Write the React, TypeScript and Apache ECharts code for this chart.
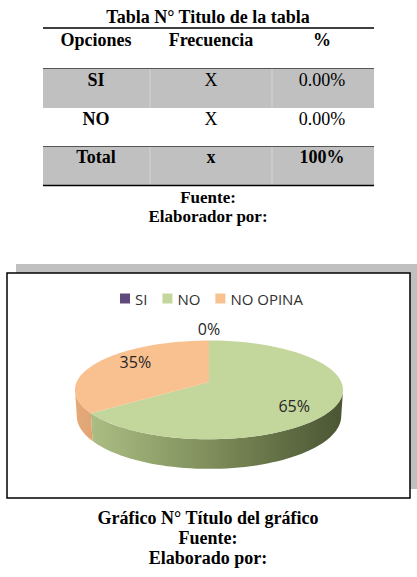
import React, { useEffect, useRef } from "react";
import * as echarts from "echarts";

// ---- Data ----
const categories = ["SI", "NO", "NO OPINA"];
const values = [0, 65, 35];

const tableTitle = "Tabla N° Titulo de la tabla";
const tableHeaders = ["Opciones", "Frecuencia", "%"];
const tableOptions = ["SI", "NO", "Total"];
const tableFreq = ["X", "X", "x"];
const tablePct = ["0.00%", "0.00%", "100%"];
const tableFooter = ["Fuente:", "Elaborador por:"];
const chartCaption = ["Gráfico N° Título del gráfico", "Fuente:", "Elaborado por:"];

// ---- Styles ----
const topColors = ["#604A7B", "#C3D69B", "#F9C090"];
const wallStops = [
  ["#7d6a98", "#5a4775", "#3c2d52"],
  ["#b2c489", "#7f8e5b", "#4a5533"],
  ["#e6aa7a", "#b37b50", "#7a5236"],
];

// projection parameters of the 3D pie
const CX = 209, CY = 382, K = 770, L = 5.82, SA = 0.3636, CA = 0.9315, H = 0.211;

function proj(theta: number, rx: number, rz: number, down: boolean): number[] {
  const x = rx * Math.sin(theta);
  const z = -rz * Math.cos(theta);
  const h = down ? H : 0;
  const depth = L + h * SA - z * CA;
  return [CX + (K * x) / depth, CY + (K * (h * CA + z * SA)) / depth];
}

const SERIF = "'Liberation Serif', 'Times New Roman', serif";
const SANS = "'Open Sans', sans-serif";

export default function App() {
  const ref = useRef<HTMLDivElement>(null);

  useEffect(() => {
    if (!ref.current) return;
    const chart = echarts.init(ref.current, null, { renderer: "svg" });
    const total = values.reduce((a, b) => a + b, 0);
    const starts: number[] = [];
    let acc = 0;
    values.forEach((v) => {
      starts.push(acc);
      acc += v;
    });
    const thR = Math.acos(-CA / L);
    const thL = 2 * Math.PI - thR;

    const makeRender = (i: number) => (params: any, api: any) => {
      const a = (starts[i] / total) * 2 * Math.PI;
      const b = ((starts[i] + values[i]) / total) * 2 * Math.PI;
      const children: any[] = [];
      const N = 60;
      // wall
      const lo = Math.max(a, thR);
      const hi = Math.min(b, thL);
      if (hi > lo) {
        const pts: number[][] = [];
        for (let k = 0; k <= N; k++) pts.push(proj(lo + ((hi - lo) * k) / N, 1, 1, false));
        for (let k = N; k >= 0; k--) pts.push(proj(lo + ((hi - lo) * k) / N, 1, 1, true));
        children.push({
          type: "polygon",
          z2: 1,
          shape: { points: pts },
          style: {
            fill: new echarts.graphic.LinearGradient(
              75, 0, 343, 0,
              [
                { offset: 0, color: wallStops[i][0] },
                { offset: 0.5, color: wallStops[i][1] },
                { offset: 1, color: wallStops[i][2] },
              ],
              true
            ),
          },
        });
      }
      // top
      if (b > a) {
        const pts: number[][] = [proj(0, 0, 0, false)];
        for (let k = 0; k <= N; k++) pts.push(proj(a + ((b - a) * k) / N, 1, 1, false));
        children.push({
          type: "polygon",
          z2: 2,
          shape: { points: pts },
          style: { fill: topColors[i] },
        });
      }
      // label
      const pct = Math.round((values[i] / total) * 100) + "%";
      let lp: number[];
      if (values[i] === 0) {
        const p = proj(a, 1, 1, false);
        lp = [p[0], p[1] - 12];
      } else {
        lp = proj((a + b) / 2, 0.67, 1, false);
      }
      children.push({
        type: "text",
        z2: 3,
        style: {
          text: pct,
          x: lp[0],
          y: lp[1],
          align: "center",
          verticalAlign: "middle",
          font: `16px ${SANS}`,
          fill: "#262626",
        },
      });
      return { type: "group", children };
    };

    const graphic: any[] = [];
    // table title & lines
    graphic.push({ type: "text", style: { text: tableTitle, x: 208, y: 17, align: "center", verticalAlign: "middle", font: `bold 18px ${SERIF}`, fill: "#000" } });
    const colX = [96, 211, 322];
    tableHeaders.forEach((h, j) => {
      graphic.push({ type: "text", style: { text: h, x: colX[j], y: 40, align: "center", verticalAlign: "middle", font: `bold 18px ${SERIF}`, fill: "#000" } });
    });
    const bands = [[68, 108], [108, 146], [146, 185]];
    const rowY = [80, 119, 157];
    bands.forEach((bd, r) => {
      if (r !== 1) {
        graphic.push({ type: "rect", shape: { x: 43, y: bd[0], width: 331, height: bd[1] - bd[0] }, style: { fill: "#c0c0c0" } });
        graphic.push({ type: "line", shape: { x1: 150, y1: bd[0], x2: 150, y2: bd[1] }, style: { stroke: "#d4d4d4", lineWidth: 1 } });
        graphic.push({ type: "line", shape: { x1: 272, y1: bd[0], x2: 272, y2: bd[1] }, style: { stroke: "#d4d4d4", lineWidth: 1 } });
        graphic.push({ type: "line", shape: { x1: 43, y1: bd[0] + 0.5, x2: 374, y2: bd[0] + 0.5 }, style: { stroke: "#555", lineWidth: 1 } });
      }
    });
    tableOptions.forEach((t, r) => {
      graphic.push({ type: "text", style: { text: t, x: colX[0], y: rowY[r], align: "center", verticalAlign: "middle", font: `bold 18px ${SERIF}`, fill: "#000" } });
      graphic.push({ type: "text", style: { text: tableFreq[r], x: colX[1], y: rowY[r], align: "center", verticalAlign: "middle", font: `${r === 2 ? "bold " : ""}18px ${SERIF}`, fill: "#000" } });
      graphic.push({ type: "text", style: { text: tablePct[r], x: colX[2], y: rowY[r], align: "center", verticalAlign: "middle", font: `${r === 2 ? "bold " : ""}18px ${SERIF}`, fill: "#000" } });
    });
    graphic.push({ type: "line", shape: { x1: 43, y1: 28, x2: 374, y2: 28 }, style: { stroke: "#000", lineWidth: 1.5 } });
    graphic.push({ type: "line", shape: { x1: 43, y1: 185.5, x2: 374, y2: 185.5 }, style: { stroke: "#000", lineWidth: 1.5 } });
    tableFooter.forEach((t, k) => {
      graphic.push({ type: "text", style: { text: t, x: 208, y: 197 + k * 19, align: "center", verticalAlign: "middle", font: `bold 17px ${SERIF}`, fill: "#000" } });
    });
    // chart box with shadow
    graphic.push({ type: "rect", shape: { x: 16, y: 264, width: 403, height: 225 }, style: { fill: "#c0c0c0" } });
    graphic.push({ type: "rect", shape: { x: 7, y: 273, width: 403, height: 225 }, style: { fill: "#fff", stroke: "#000", lineWidth: 1.5 } });
    chartCaption.forEach((t, k) => {
      graphic.push({ type: "text", style: { text: t, x: 208, y: 518 + k * 20, align: "center", verticalAlign: "middle", font: `bold 18px ${SERIF}`, fill: "#000" } });
    });

    chart.setOption({
      animation: false,
      graphic: { elements: graphic },
      legend: {
        data: categories,
        left: 120,
        top: 291,
        padding: 0,
        itemWidth: 10,
        itemHeight: 10,
        itemGap: 15,
        icon: "rect",
        textStyle: { fontFamily: SANS, fontSize: 15, color: "#303030" },
        selectedMode: false,
      },
      series: categories.map((name, i) => ({
        type: "custom",
        name,
        coordinateSystem: "none",
        silent: true,
        z: 5,
        itemStyle: { color: topColors[i] },
        data: [values[i]],
        renderItem: makeRender(i),
      })),
    });
    return () => chart.dispose();
  }, []);

  return (
    <div
      ref={ref}
      style={{ position: "fixed", left: 0, top: 0, width: 417, height: 577, background: "#fff" }}
    />
  );
}
